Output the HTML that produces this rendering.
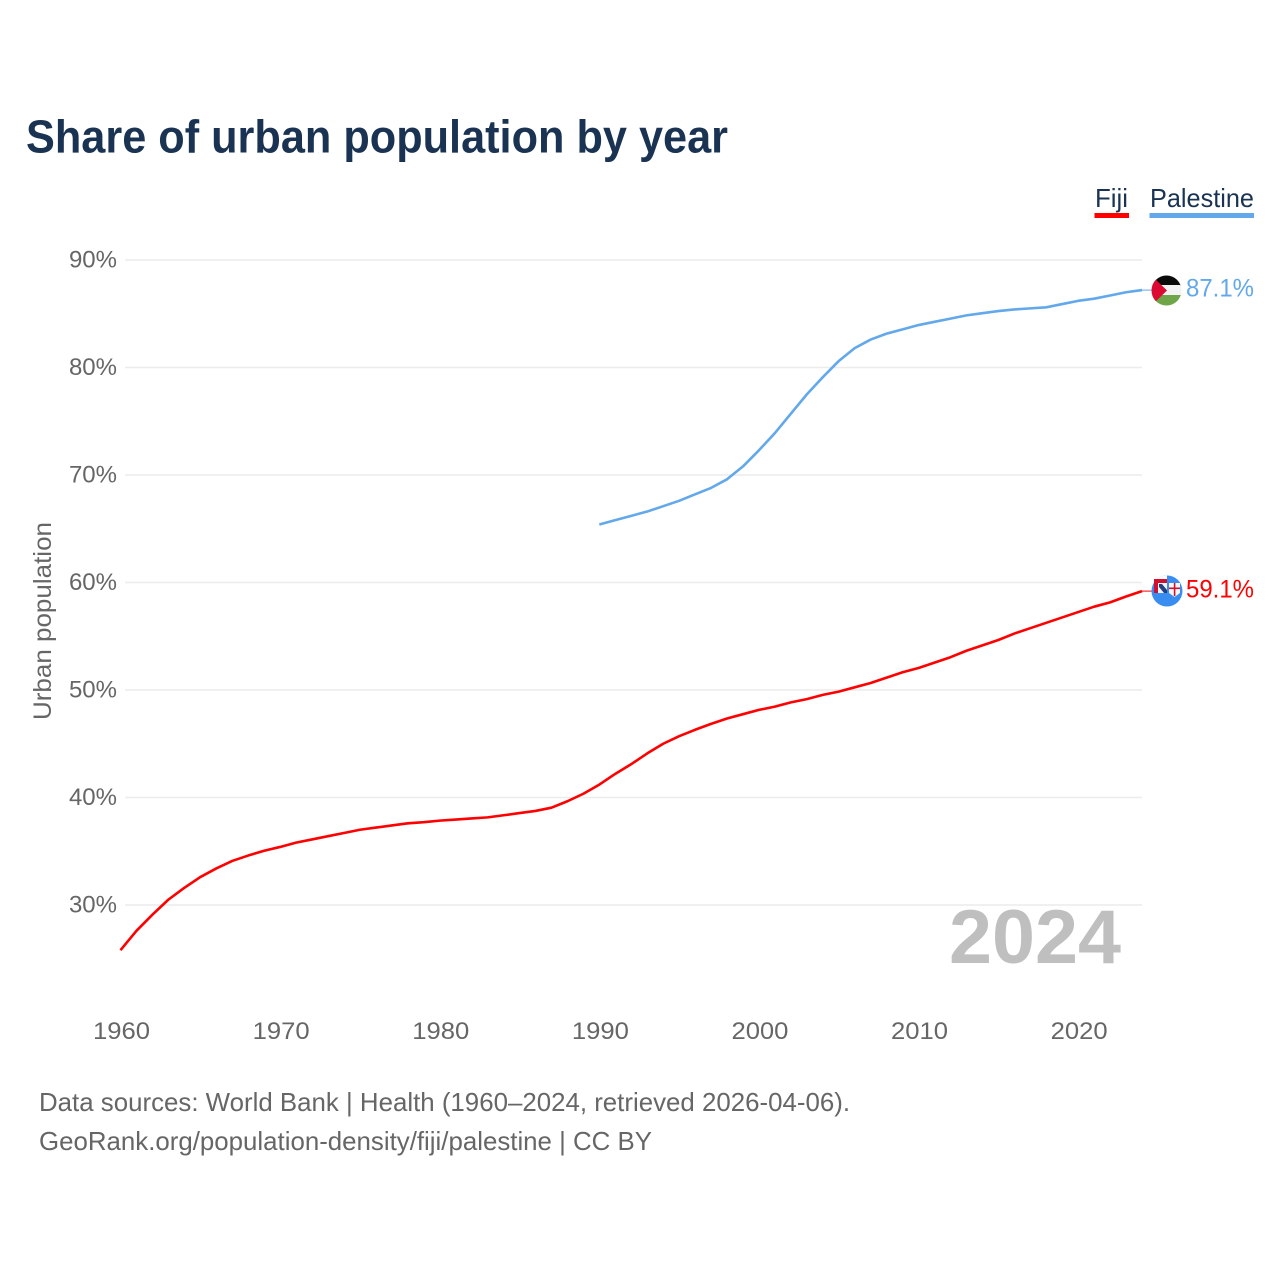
<!DOCTYPE html>
<html lang="en">
<head>
<meta charset="utf-8">
<title>Share of urban population by year</title>
<style>
html,body{margin:0;padding:0;background:#fff;width:1280px;height:1280px;overflow:hidden}
svg{display:block;font-family:"Liberation Sans",sans-serif}
</style>
</head>
<body>
<svg id="chart" xmlns="http://www.w3.org/2000/svg" width="1280" height="1280" viewBox="0 0 1280 1280">
  <defs>
    <clipPath id="clip-pal"><circle cx="1166.5" cy="290.5" r="15"/></clipPath>
    <clipPath id="clip-fiji"><circle cx="1167" cy="591" r="15.5"/></clipPath>
  </defs>
  <rect width="1280" height="1280" fill="#fff"/>
  <text x="26" y="152.5" font-size="46" font-weight="700" fill="#1a3353" textLength="702" lengthAdjust="spacingAndGlyphs">Share of urban population by year</text>

  <g id="grid"></g>
  <g id="yticks"></g>
  <g id="xticks"></g>

  <text transform="translate(51,621) rotate(-90)" text-anchor="middle" font-size="25" fill="#666" textLength="198" lengthAdjust="spacingAndGlyphs">Urban population</text>

  <text x="949" y="963" font-size="76" font-weight="700" fill="#bfbfbf" textLength="172" lengthAdjust="spacingAndGlyphs">2024</text>

  <g id="series"></g>

  <g>
    <text x="1095" y="207" font-size="26" fill="#1a3353" textLength="33" lengthAdjust="spacingAndGlyphs">Fiji</text>
    <rect x="1094.5" y="213" width="34.5" height="5" fill="#ff0000"/>
  </g>
  <g>
    <text x="1150" y="207" font-size="26" fill="#1a3353" textLength="104" lengthAdjust="spacingAndGlyphs">Palestine</text>
    <rect x="1149.5" y="213" width="104.5" height="5" fill="#62a8ea"/>
  </g>

  <g clip-path="url(#clip-pal)">
    <rect x="1151" y="275" width="31" height="11" fill="#0a0a0a"/>
    <rect x="1151" y="285" width="31" height="11" fill="#f2f2f2"/>
    <rect x="1151" y="295" width="31" height="12" fill="#6fa549"/>
    <polygon points="1151,275 1167,290.5 1151,306" fill="#dc0a32"/>
  </g>
  <g>
    <g clip-path="url(#clip-fiji)">
      <rect x="1151" y="575" width="32" height="33" fill="#3a8df0"/>
      <rect x="1151" y="575" width="16" height="4" fill="#fff"/>
    </g>
    <rect x="1154" y="579" width="13" height="14" fill="#d0102c"/>
    <rect x="1158" y="583" width="9" height="10" fill="#f4f4f4"/>
    <polygon points="1159,584 1162,584 1167,590 1167,593 1164,593 1159,587" fill="#24407e"/>
    <polygon points="1169,583 1180,583 1180,593 1174.5,597 1169,593" fill="#f6f6f6"/>
    <rect x="1173.8" y="583" width="1.6" height="13" fill="#d0102c"/>
    <rect x="1169" y="587.5" width="11" height="1.6" fill="#d0102c"/>
  </g>

  <text x="1186" y="296.5" font-size="25" fill="#62a8ea" textLength="68" lengthAdjust="spacingAndGlyphs">87.1%</text>
  <text x="1186" y="597.5" font-size="25" fill="#ff0000" textLength="68" lengthAdjust="spacingAndGlyphs">59.1%</text>

  <text x="39" y="1111" font-size="26" fill="#666" textLength="811" lengthAdjust="spacingAndGlyphs">Data sources: World Bank | Health (1960–2024, retrieved 2026-04-06).</text>
  <text x="39" y="1150" font-size="26" fill="#666" textLength="613" lengthAdjust="spacingAndGlyphs">GeoRank.org/population-density/fiji/palestine | CC BY</text>
</svg>
<script>
const yTickValues = [30, 40, 50, 60, 70, 80, 90];
const xTickValues = [1960, 1970, 1980, 1990, 2000, 2010, 2020];
const fijiStartYear = 1960;
const fijiValues = [25.8, 27.6, 29.1, 30.5, 31.6, 32.6, 33.4, 34.1, 34.6, 35.05,
  35.4, 35.8, 36.1, 36.4, 36.7, 37.0, 37.2, 37.4, 37.6, 37.7,
  37.85, 37.95, 38.05, 38.15, 38.35, 38.55, 38.75, 39.05, 39.65, 40.35,
  41.2, 42.2, 43.1, 44.1, 45.0, 45.7, 46.3, 46.85, 47.35, 47.75,
  48.15, 48.45, 48.85, 49.15, 49.55, 49.85, 50.25, 50.65, 51.15, 51.65,
  52.05, 52.55, 53.05, 53.65, 54.15, 54.65, 55.25, 55.75, 56.25, 56.75,
  57.25, 57.75, 58.15, 58.7, 59.2];
const palestineStartYear = 1990;
const palestineValues = [65.4, 65.8, 66.2, 66.6, 67.1, 67.6, 68.2, 68.8, 69.6, 70.8,
  72.3, 73.9, 75.7, 77.5, 79.1, 80.6, 81.8, 82.6, 83.15, 83.55,
  83.95, 84.25, 84.55, 84.85, 85.05, 85.25, 85.4, 85.5, 85.6, 85.9,
  86.2, 86.4, 86.7, 87.0, 87.2];

const NS = 'http://www.w3.org/2000/svg';
const xScale = year => 120.5 + (year - 1960) * (1142 - 120.5) / 64;
const yScale = v => 905 - (v - 30) * 10.75;

function make(tag, attrs, parent, text) {
  const el = document.createElementNS(NS, tag);
  Object.keys(attrs).forEach(k => el.setAttribute(k, attrs[k]));
  if (text !== undefined) el.textContent = text;
  parent.appendChild(el);
  return el;
}

const grid = document.getElementById('grid');
const yticks = document.getElementById('yticks');
const xticks = document.getElementById('xticks');
const series = document.getElementById('series');

yTickValues.forEach(v => {
  const line = make('line', {x1: 125, x2: 1142, y1: yScale(v), y2: yScale(v), stroke: '#ececec', 'stroke-width': 1.5}, grid);
  
  
  const label = make('text', {x: 117, y: yScale(v) + 7.5, 'text-anchor': 'end', 'font-size': 24, fill: '#666'}, yticks, v + '%');
  
  
});

xTickValues.forEach(year => {
  const label = make('text', {x: xScale(year) + 1, y: 1039, 'text-anchor': 'middle', 'font-size': 24, fill: '#666', textLength: 57, lengthAdjust: 'spacingAndGlyphs'}, xticks, String(year));
  
  
});

function linePoints(startYear, values) {
  return values.map((v, i) => xScale(startYear + i).toFixed(2) + ',' + yScale(v).toFixed(2)).join(' ');
}

const palestineLine = make('polyline', {points: linePoints(palestineStartYear, palestineValues), fill: 'none', stroke: '#62a8ea', 'stroke-width': 2.6, 'stroke-linejoin': 'round'}, series);



const fijiLine = make('polyline', {points: linePoints(fijiStartYear, fijiValues), fill: 'none', stroke: '#ff0000', 'stroke-width': 2.6, 'stroke-linejoin': 'round'}, series);



const palLast = palestineValues[palestineValues.length - 1];
const palConnector = make('line', {x1: 1142, x2: 1153, y1: yScale(palLast), y2: yScale(palLast), stroke: '#62a8ea', 'stroke-width': 1}, series);



const fijiLast = fijiValues[fijiValues.length - 1];
const fijiConnector = make('line', {x1: 1142, x2: 1153, y1: yScale(fijiLast), y2: yScale(fijiLast), stroke: '#ff0000', 'stroke-width': 1}, series);


</script>
</body>
</html>
